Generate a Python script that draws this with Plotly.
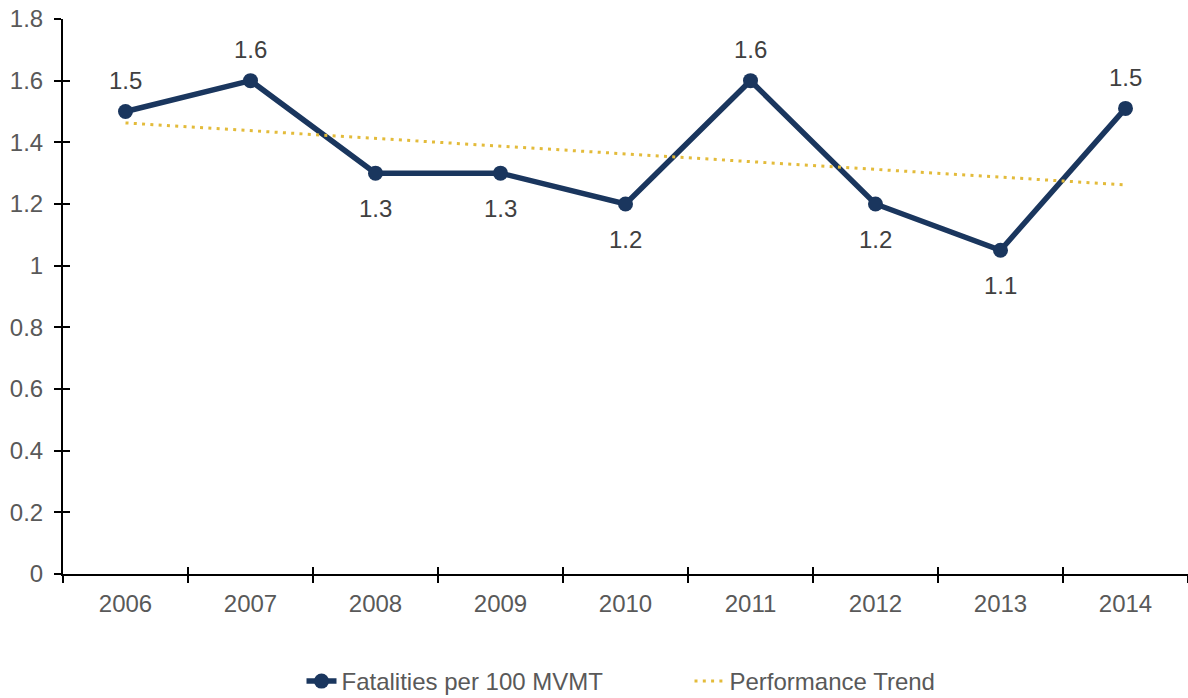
import plotly.graph_objects as go

years = ["2006", "2007", "2008", "2009", "2010", "2011", "2012", "2013", "2014"]
fatalities = [1.5, 1.6, 1.3, 1.3, 1.2, 1.6, 1.2, 1.05, 1.51]
label_above = [True, True, False, False, False, True, False, False, True]
trend_years = ["2006", "2014"]
trend_values = [1.463, 1.262]
y_ticks = [0, 0.2, 0.4, 0.6, 0.8, 1, 1.2, 1.4, 1.6, 1.8]

navy = "#1A365E"
gold = "#E3BB3A"
gray = "#595959"
font = "Liberation Sans, Arial, sans-serif"
fs = 24

fig = go.Figure()
fig.add_trace(go.Scatter(
    x=years, y=fatalities, mode="lines+markers",
    name="Fatalities per 100 MVMT",
    line=dict(color=navy, width=5.5),
    marker=dict(color=navy, size=15),
    cliponaxis=False,
))
fig.add_trace(go.Scatter(
    x=trend_years, y=trend_values, mode="lines",
    name="Performance Trend",
    line=dict(color=gold, width=3, dash="3px,5.3px"),
))

for i, (v, up) in enumerate(zip(fatalities, label_above)):
    fig.add_annotation(x=i, y=v, xref="x", yref="y", text=f"{v:.1f}", showarrow=False,
                       yshift=31 if up else -35,
                       font=dict(size=fs, color="#404040", family=font))

axis_common = dict(showgrid=False, zeroline=False, showline=True, linecolor="black", linewidth=2,
                   tickcolor="black", tickwidth=2, ticklen=7, automargin=False)
fig.update_layout(
    width=1188, height=704,
    margin=dict(l=63, r=0, t=19, b=129),
    paper_bgcolor="white", plot_bgcolor="white",
    font=dict(family=font, size=fs, color=gray),
    showlegend=True,
    legend=dict(orientation="h", x=0.212, xanchor="left", y=-0.1942, yanchor="middle",
                font=dict(size=fs, color=gray), entrywidth=343, entrywidthmode="pixels"),
    xaxis=dict(type="category", categoryorder="array", categoryarray=years,
               range=[-0.5, 8.5], tickson="boundaries", ticks="outside", ticklabelstandoff=7,
               tickfont=dict(size=fs, color=gray), **axis_common),
    xaxis2=dict(type="category", categoryorder="array", categoryarray=years,
                range=[-0.5, 8.5], tickson="boundaries", ticks="inside",
                overlaying="x", side="bottom", showticklabels=False, anchor="y", **axis_common),
    yaxis=dict(range=[0, 1.8], tickvals=y_ticks, ticktext=[f"{v:g}" for v in y_ticks],
               ticks="outside", ticklabelstandoff=6, tickfont=dict(size=fs, color=gray), **axis_common),
    yaxis2=dict(range=[0, 1.8], tickvals=y_ticks, ticks="inside", overlaying="y", side="left",
                showticklabels=False, anchor="x", **axis_common),
)
fig.add_trace(go.Scatter(x=years, y=fatalities, xaxis="x2", yaxis="y2", mode="none",
                         showlegend=False, hoverinfo="skip"))

fig.write_html("out.html", config={"displayModeBar": False},
               post_script="document.body.style.margin='0';document.body.style.overflow='hidden';")
